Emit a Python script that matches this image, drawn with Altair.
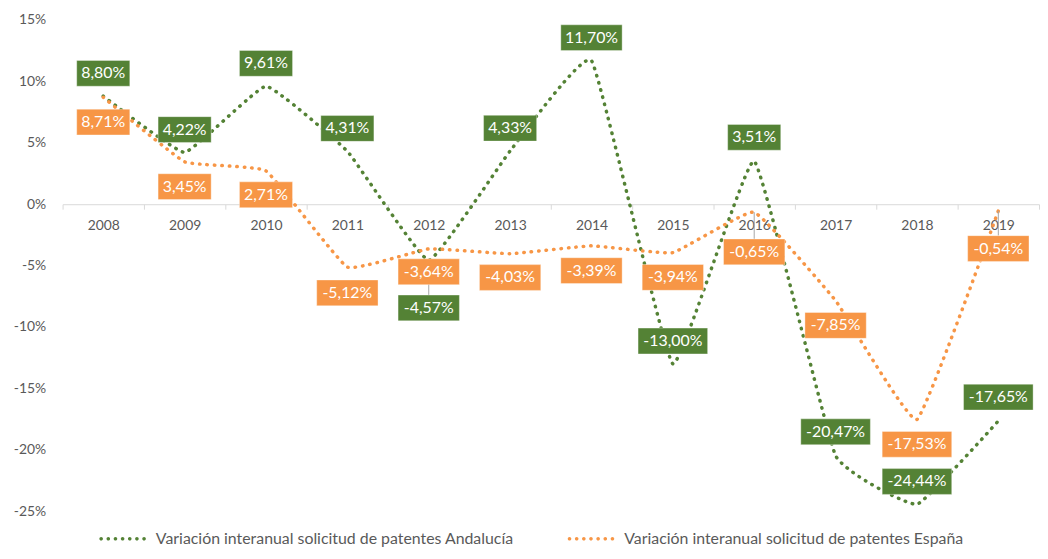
import altair as alt
import pandas as pd

years = ["2008", "2009", "2010", "2011", "2012", "2013", "2014", "2015", "2016", "2017", "2018", "2019"]
andalucia = [8.80, 4.22, 9.61, 4.31, -4.57, 4.33, 11.70, -13.00, 3.51, -20.47, -24.44, -17.65]
espana = [8.71, 3.45, 2.71, -5.12, -3.64, -4.03, -3.39, -3.94, -0.65, -7.85, -17.53, -0.54]
series_names = [
    "Variación interanual solicitud de patentes Andalucía",
    "Variación interanual solicitud de patentes España",
]
colors = ["#548235", "#F79646"]
y_ticks = [-25, -20, -15, -10, -5, 0, 5, 10, 15]

# label placement offsets in pixels (negative = above the point)
label_off_and = [-23, -23, -23, -23, 48, -23, -23, -23, -24, -24, -23, -24]
label_off_esp = [25, 25, 24, 26, 23, 24, 25, 25, 40, 25, 25, 38]

W, H = 984, 495
Y_MIN, Y_MAX = -25, 15
PPU = H / (Y_MAX - Y_MIN)
BOX_H = 26
FONT = "Lato"
GREY = "#595959"
SYM = 47  # legend symbol length in px
DOT_R = 1.8 / (SYM / 2)  # dot radius in symbol units

# dotted legend symbol: 7 filled circles along a horizontal line
dot_path = " ".join(
    f"M{-0.92 + k * 0.3067 - DOT_R:.4f},0 a{DOT_R:.4f},{DOT_R:.4f} 0 1,0 {2 * DOT_R:.4f},0 "
    f"a{DOT_R:.4f},{DOT_R:.4f} 0 1,0 {-2 * DOT_R:.4f},0 Z"
    for k in range(7)
)

rows = []
for name, vals, offs in [(series_names[0], andalucia, label_off_and), (series_names[1], espana, label_off_esp)]:
    for yr, v, o in zip(years, vals, offs):
        rows.append({
            "serie": name,
            "year": yr,
            "value": v,
            "off": o,
            "label": f"{v:.2f}".replace(".", ",") + "%",
        })
df = pd.DataFrame(rows)

xscale = alt.Scale(type="band", domain=years, paddingInner=0, paddingOuter=0)
yscale = alt.Scale(domain=[Y_MIN, Y_MAX], nice=False, zero=False)
cscale = alt.Scale(domain=series_names, range=colors)

x_axis = alt.Axis(
    title=None,
    labelAngle=0,
    tickBand="extent",
    tickSize=5,
    tickColor="#d9d9d9",
    domainColor="#d9d9d9",
    domainWidth=1,
    labelFont=FONT,
    labelFontSize=14,
    labelColor=GREY,
    labelPadding=9,
    offset=-H * (0 - Y_MIN) / (Y_MAX - Y_MIN),
    grid=False,
)
y_axis = alt.Axis(
    title=None,
    values=y_ticks,
    labelExpr="datum.value + '%'",
    grid=False,
    domain=False,
    ticks=False,
    labelPadding=17,
    labelFont=FONT,
    labelFontSize=14,
    labelColor=GREY,
)
X = alt.X("year:N", scale=xscale, sort=years, axis=x_axis)


def Y(field):
    return alt.Y(field, scale=yscale, axis=y_axis)


legend = alt.Legend(
    title=None,
    orient="none",
    direction="horizontal",
    legendX=37,
    legendY=499,
    padding=0,
    symbolType=dot_path,
    symbolStrokeWidth=0,
    symbolSize=SYM * SYM,
    labelFont=FONT,
    labelFontSize=16,
    labelColor=GREY,
    labelOffset=10,
    labelLimit=600,
    columnPadding=54,
)
COLOR = alt.Color("serie:N", scale=cscale, legend=legend)

base = alt.Chart(df).transform_calculate(
    ly=f"datum.value - datum.off / {PPU}",
).transform_calculate(
    b1=f"datum.ly - {BOX_H / 2 / PPU}",
    b2=f"datum.ly + {BOX_H / 2 / PPU}",
    edge=f"datum.off > 0 ? datum.ly + {BOX_H / 2 / PPU} : datum.ly - {BOX_H / 2 / PPU}",
)

lines = base.mark_line(
    interpolate="cardinal", tension=0.7, strokeWidth=3.5, strokeDash=[0.5, 7], strokeCap="round"
).encode(
    x=X,
    y=Y("value:Q"),
    color=COLOR,
    detail="serie:N",
)

leaders = base.transform_filter("abs(datum.off) > 30").mark_rule(
    color="#a6a6a6", strokeWidth=1
).encode(
    x=X,
    y=Y("value:Q"),
    y2="edge:Q",
)

boxes = base.mark_bar(
    width=alt.ExprRef("8.3 * length(datum.label) + 12"), stroke="white", strokeWidth=0.6, strokeOpacity=0.6
).encode(
    x=X,
    y=Y("b1:Q"),
    y2="b2:Q",
    color=COLOR,
)

texts = base.mark_text(
    font=FONT, fontSize=16, color="white", baseline="middle", align="center"
).encode(
    x=X,
    y=Y("ly:Q"),
    text="label:N",
)

chart = alt.layer(lines, leaders, boxes, texts).properties(
    width=W,
    height=H,
    autosize=alt.AutoSizeParams(type="none"),
    padding={"left": 55, "top": 10, "right": 1, "bottom": 38},
).configure_view(stroke=None)

chart.save("out.html", embed_options={"renderer": "svg", "actions": False})
